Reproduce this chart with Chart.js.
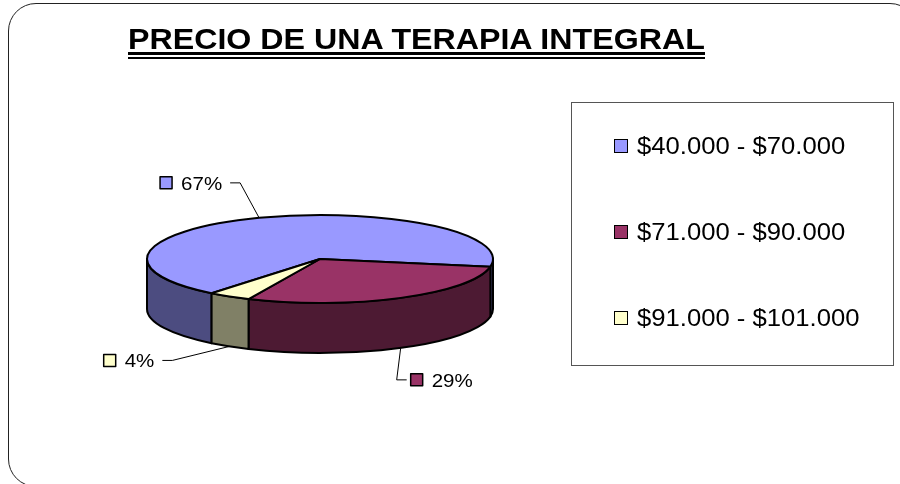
<!DOCTYPE html>
<html>
<head>
<meta charset="utf-8">
<script src="https://cdn.jsdelivr.net/npm/chart.js@4/dist/chart.umd.min.js"></script>
<style>
  html, body { margin: 0; padding: 0; background: #fff; overflow: hidden; }
  #wrap { position: relative; width: 900px; height: 484px; overflow: hidden;
          font-family: "Liberation Sans", Arial, sans-serif; color: #000; }
  #frame { position: absolute; left: 8px; top: 3px; width: 910px; height: 484px;
           border: 1.5px solid #222; border-radius: 28px; box-sizing: border-box; }
  #chart { position: absolute; left: 0; top: 0; }
  #title { position: absolute; left: 128px; top: 24px; font-weight: bold; font-size: 30px;
           line-height: 30px; white-space: nowrap; transform-origin: left top; }
  .ul { position: absolute; left: 128px; background: #000; }
  #legendBox { position: absolute; left: 571px; top: 102px; width: 323px; height: 264px;
               border: 1px solid #555; box-sizing: border-box; }
  .item { position: absolute; left: 614px; height: 24px; line-height: 24px; white-space: nowrap; }
  .item .sq { position: absolute; left: 0; top: 5px; width: 14px; height: 14px;
              border: 1.5px solid #000; box-sizing: border-box; }
  .item .txt { position: absolute; left: 23px; top: 0; font-size: 23px;
               transform: scaleX(1.115); transform-origin: left top; }
</style>
</head>
<body>
<div id="wrap">
  <div id="frame"></div>
  <canvas id="chart" width="900" height="484"></canvas>
  <div id="title">PRECIO DE UNA TERAPIA INTEGRAL</div>
  <div class="ul" id="ul1" style="top:52px;height:3px"></div>
  <div class="ul" id="ul2" style="top:57px;height:2px"></div>
  <div id="legendBox"></div>
  <div id="legend"></div>
</div>
<script>
// price ranges and share of answers
const labels = ['$40.000 - $70.000', '$71.000 - $90.000', '$91.000 - $101.000'];
const values = [67, 29, 4];
const topColors = ['#9999FF', '#993366', '#FFFFCC'];
const sideColors = ['#4C4C80', '#4D1A33', '#808066'];

// where each percentage label sits relative to its slice
const labelPlacement = [
  { dx: -19, dy: -35, side: 'left' },
  { dx: -4, dy: 32, side: 'right' },
  { dx: -57, dy: 14, side: 'left' }
];

const TILT = 0.254;
const DEPTH = 50;

// title is stretched to the reference width, underline follows it
const titleEl = document.getElementById('title');
const titleW = 577;
titleEl.style.transform = `scaleX(${titleW / titleEl.offsetWidth})`;
document.getElementById('ul1').style.width = titleW + 'px';
document.getElementById('ul2').style.width = titleW + 'px';

// legend
const legendEl = document.getElementById('legend');
const legendY = [134, 220, 306];
labels.forEach((l, i) => {
  const it = document.createElement('div');
  it.className = 'item';
  it.style.top = legendY[i] + 'px';
  it.innerHTML = `<div class="sq" style="background:${topColors[i]}"></div><div class="txt">${l}</div>`;
  legendEl.appendChild(it);
});

const pie3d = {
  id: 'pie3d',
  beforeDatasetsDraw(chart) {
    const ctx = chart.ctx;
    const meta = chart.getDatasetMeta(0);
    // front walls of the disc
    meta.data.forEach((arc, i) => {
      const { x, y, startAngle, endAngle, outerRadius: r } = arc;
      for (let base = 0; base < 6 * Math.PI; base += 2 * Math.PI) {
        const a = Math.max(startAngle, base);
        const b = Math.min(endAngle, base + Math.PI);
        if (b <= a) continue;
        ctx.beginPath();
        ctx.ellipse(x, y, r, r * TILT, 0, a, b);
        ctx.ellipse(x, y + DEPTH, r, r * TILT, 0, b, a, true);
        ctx.closePath();
        ctx.fillStyle = sideColors[i];
        ctx.fill();
        ctx.lineWidth = 2;
        ctx.strokeStyle = '#000';
        ctx.lineJoin = 'round';
        ctx.stroke();
      }
    });
    // squash the top face, keep the border width even
    const cy = meta.data[0].y;
    ctx.save();
    ctx.translate(0, cy);
    ctx.scale(1, TILT);
    ctx.translate(0, -cy);
    const dpr = chart.currentDevicePixelRatio;
    const orig = CanvasRenderingContext2D.prototype.stroke;
    ctx.stroke = function () {
      this.save();
      this.setTransform(dpr, 0, 0, dpr, 0, 0);
      orig.apply(this, arguments);
      this.restore();
    };
  },
  afterDatasetsDraw(chart) {
    const ctx = chart.ctx;
    delete ctx.stroke;
    ctx.restore();

    const meta = chart.getDatasetMeta(0);
    const total = values.reduce((s, v) => s + v, 0);
    meta.data.forEach((arc, i) => {
      const mid = (arc.startAngle + arc.endAngle) / 2;
      const s = Math.sin(mid);
      const ax = arc.x + arc.outerRadius * Math.cos(mid);
      const ay = arc.y + arc.outerRadius * TILT * s + (s > 0 ? DEPTH : 0);
      const p = labelPlacement[i];
      const ex = ax + p.dx, ey = ay + p.dy;
      const dir = p.side === 'left' ? -1 : 1;
      const tx = ex + dir * 10;

      ctx.beginPath();
      ctx.moveTo(ax, ay);
      ctx.lineTo(ex, ey);
      ctx.lineTo(tx, ey);
      ctx.lineWidth = 1;
      ctx.strokeStyle = '#000';
      ctx.stroke();

      const pct = Math.round(values[i] / total * 100) + '%';
      ctx.font = '19px "Liberation Sans", Arial, sans-serif';
      const w = ctx.measureText(pct).width * 1.08;
      let sqx, textLeft;
      if (dir < 0) {
        textLeft = tx - 8 - w;
        sqx = textLeft - 9 - 12;
      } else {
        sqx = tx + 4;
        textLeft = sqx + 12 + 9;
      }
      ctx.fillStyle = topColors[i];
      ctx.fillRect(sqx, ey - 6, 12, 12);
      ctx.lineWidth = 1.5;
      ctx.strokeRect(sqx, ey - 6, 12, 12);

      ctx.save();
      ctx.translate(textLeft, ey + 7);
      ctx.scale(1.08, 1);
      ctx.fillStyle = '#000';
      ctx.textAlign = 'left';
      ctx.textBaseline = 'alphabetic';
      ctx.fillText(pct, 0, 0);
      ctx.restore();
    });
  }
};

new Chart(document.getElementById('chart'), {
  type: 'pie',
  data: {
    labels,
    datasets: [{
      data: values,
      backgroundColor: topColors,
      borderColor: '#000',
      borderWidth: 2,
      hoverOffset: 0,
      offset: 0,
      clip: false
    }]
  },
  options: {
    responsive: false,
    animation: false,
    events: [],
    rotation: 218.8,
    radius: 173,
    layout: { padding: { left: 147, right: 407, top: 86, bottom: 52 } },
    plugins: { legend: { display: false }, tooltip: { enabled: false } }
  },
  plugins: [pie3d]
});
</script>
</body>
</html>
